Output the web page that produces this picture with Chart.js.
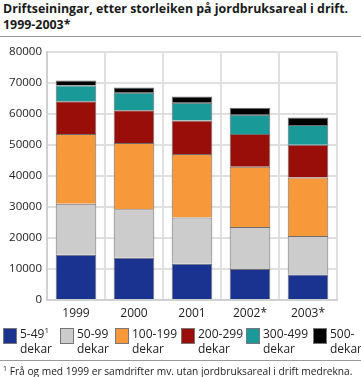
<!DOCTYPE html>
<html>
<head>
<meta charset="utf-8">
<script src="https://cdn.jsdelivr.net/npm/chart.js@4"></script>
<style>
  body { margin: 0; width: 361px; height: 377px; background: #fff; font-family: "Open Sans", sans-serif; color: #222; position: relative; overflow: hidden; }
  #title { position: absolute; left: 3px; top: 1px; font-weight: bold; font-size: 12.4px; line-height: 16px; color: #1a1a1a; white-space: nowrap; }
  .rule { position: absolute; left: 0; width: 361px; height: 1px; background: #999; }
  #chartBox { position: absolute; left: 0; top: 40px; width: 345px; height: 290px; }
  #legend { position: absolute; left: 0; top: 327px; width: 361px; height: 30px; }
  .legend-item { position: absolute; top: 0; }
  .legend-swatch { position: absolute; left: 0; top: 1px; width: 14px; height: 16px; box-sizing: border-box; border: 1px solid #777; }
  .legend-text { position: absolute; left: 17px; top: -1px; font-size: 12px; line-height: 15px; white-space: nowrap; color: #222; }
  .legend-text sup { font-size: 8px; vertical-align: 5px; line-height: 0; }
  #note { position: absolute; left: 3px; top: 364px; font-size: 10.2px; color: #222; white-space: nowrap; }
  #note sup { font-size: 7px; vertical-align: 4px; line-height: 0; }
</style>
</head>
<body>
<div id="title">Driftseiningar, etter storleiken på jordbruksareal i drift.<br>1999-2003*</div>
<div class="rule" style="top:36px"></div>
<div id="chartBox"><canvas id="chartCanvas" width="345" height="290"></canvas></div>
<div id="legend"></div>
<div class="rule" style="top:360px"></div>
<div id="note"><sup>1</sup> Frå og med 1999 er samdrifter mv. utan jordbruksareal i drift medrekna.</div>
<script>
const years = ["1999", "2000", "2001", "2002*", "2003*"];
const size5to49 = [14600, 13600, 11700, 10000, 8200];
const size50to99 = [16450, 15650, 14900, 13500, 12450];
const size100to199 = [22450, 21400, 20450, 19450, 18850];
const size200to299 = [10550, 10550, 10850, 10550, 10600];
const size300to499 = [5100, 5600, 5700, 6250, 6300];
const size500plus = [1600, 1700, 2050, 2250, 2450];
const yTicks = [0, 10000, 20000, 30000, 40000, 50000, 60000, 70000, 80000];

const seriesNames = ["5-49<sup>1</sup><br>dekar", "50-99<br>dekar", "100-199<br>dekar", "200-299<br>dekar", "300-499<br>dekar", "500-<br>dekar"];
const seriesData = [size5to49, size50to99, size100to199, size200to299, size300to499, size500plus];
const colors = ["#1a3391", "#cccccc", "#f7993a", "#990e08", "#1a9999", "#000000"];
const legendX = [3, 60, 115, 181, 246, 313];

const legend = document.getElementById("legend");
seriesNames.forEach((name, i) => {
  const item = document.createElement("div");
  item.className = "legend-item";
  item.style.left = legendX[i] + "px";
  const swatch = document.createElement("span");
  swatch.className = "legend-swatch";
  swatch.style.backgroundColor = colors[i];
  const text = document.createElement("span");
  text.className = "legend-text";
  text.innerHTML = name;
  item.append(swatch, text);
  legend.appendChild(item);
});

const ctx = document.getElementById("chartCanvas").getContext("2d");
new Chart(ctx, {
  type: "bar",
  data: {
    labels: years,
    datasets: seriesData.map((d, i) => ({
      data: d,
      backgroundColor: colors[i],
      borderColor: "#6e6e6e",
      borderWidth: 1,
      categoryPercentage: 0.7,
      barPercentage: 1,
    })),
  },
  options: {
    responsive: false,
    animation: false,
    layout: { padding: { top: 9, right: 8, left: 0, bottom: 0 } },
    plugins: { legend: { display: false }, tooltip: { enabled: false } },
    scales: {
      x: {
        stacked: true,
        grid: { color: "#e0e0e0", lineWidth: 2, drawTicks: false },
        border: { color: "#d0d0d0", width: 2 },
        ticks: { color: "#222", font: { family: "Open Sans", size: 12 }, padding: 6 },
        afterFit: (s) => { s.height = 30; },
      },
      y: {
        stacked: true,
        min: 0,
        max: 80000,
        afterBuildTicks: (s) => { s.ticks = yTicks.map((v) => ({ value: v })); },
        grid: { color: "#e0e0e0", lineWidth: 2, drawTicks: false },
        border: { color: "#d0d0d0", width: 2 },
        ticks: {
          color: "#222",
          font: { family: "Open Sans", size: 11.5 },
          padding: 5,
          callback: (v) => String(v),
        },
        afterFit: (s) => { s.width = 47; },
      },
    },
  },
});
</script>
</body>
</html>
